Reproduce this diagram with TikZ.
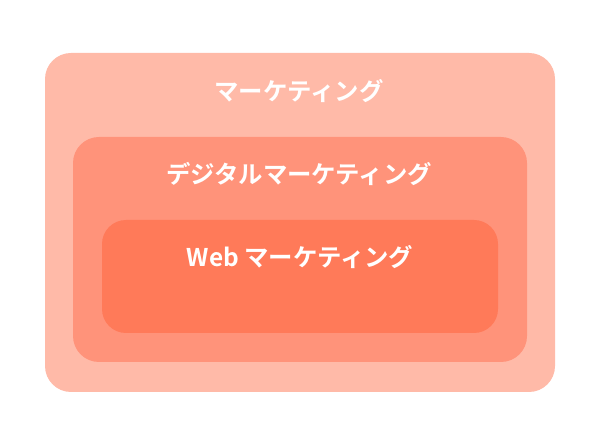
\documentclass[tikz,border=0pt]{standalone}
\usepackage{fontspec}
\newfontfamily\jpfont{Noto Sans CJK JP Bold}
\definecolor{outerc}{HTML}{FFBAA8}
\definecolor{midc}{HTML}{FF937A}
\definecolor{innerc}{HTML}{FF7A59}
\begin{document}
\begin{tikzpicture}[x=1pt,y=-1pt,
  box/.style={rounded corners=#1},
  lbl/.style={text=white,font=\jpfont\fontsize{24.4}{28}\selectfont,inner sep=0pt,anchor=center}]
\useasboundingbox[fill=white] (0,0) rectangle (600,446);
\fill[outerc,box=26pt] (45,53) rectangle (555,392);
\fill[midc,box=26pt] (73,137) rectangle (527,362);
\fill[innerc,box=24pt] (102,220) rectangle (498,333);
\node[lbl] (t1) at (299,91) {マーケティング};
\node[lbl] (t2) at (299,174) {デジタルマーケティング};
\node[lbl] (t3) at (300,257) {Web マーケティング};
\end{tikzpicture}
\end{document}
